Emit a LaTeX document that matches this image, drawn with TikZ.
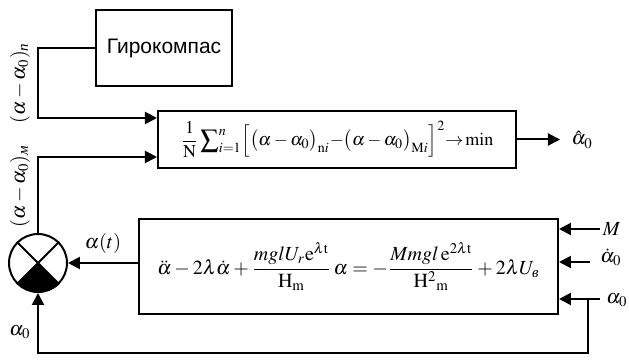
\documentclass[tikz,border=0pt]{standalone}
\usepackage{amsmath}
\usepackage{mathptmx}
\usepackage{fontspec}
\setmainfont{Liberation Serif}
\newfontfamily\gyrofont{Liberation Sans}
\usetikzlibrary{arrows.meta}

\begin{document}
\begin{tikzpicture}[x=0.5pt, y=-0.5pt, line width=1pt,
    >={Triangle[length=6pt,width=6pt]},
    block/.style={draw, inner sep=0pt},
    sig/.style={font=\fontsize{10}{12}\selectfont}]
    \useasboundingbox (0,0) rectangle (629,363);
    % blocks
    \node[block, minimum width=68pt, minimum height=38pt, font=\gyrofont\fontsize{10.5}{12}\selectfont] (gyro) at (164,48) {Гирокомпас};
    \node[block, font=\fontsize{9}{11}\selectfont, minimum width=179pt, minimum height=28.5pt] (crit) at (337,139.5)
        {$\displaystyle\frac{1}{\mathrm{N}}\sum\nolimits_{i=1}^{n}\Bigl[\bigl(\alpha-\alpha_0\bigr)_{\mathrm{n}i}{-}\bigl(\alpha-\alpha_0\bigr)_{\mathrm{M}i}\Bigr]^2{\rightarrow}\min$};
    \node[block, sig, minimum width=209.5pt, minimum height=47.5pt] (model) at (348.5,266.5)
        {$\ddot{\alpha}-2\lambda\dot{\alpha}+\dfrac{mglU_r\mathrm{e}^{\lambda\mathrm{t}}}{\mathrm{H}_{\mathrm{m}}}\,\alpha=-\dfrac{Mmgl\,\mathrm{e}^{2\lambda\mathrm{t}}}{\mathrm{H}^2{}_{\mathrm{m}}}+2\lambda U_{\text{\itshape в}}$};
    % summing point
    \node[draw, circle, minimum size=29pt, inner sep=0pt] (sum) at (38,263) {};
    \draw (sum.north west) -- (sum.south east) (sum.north east) -- (sum.south west);
    \fill (sum.center) -- (sum.south east) arc[start angle=-45, end angle=-135, radius=14.5pt] -- cycle;

    \coordinate (inN) at ([yshift=10.75pt]crit.west);
    \coordinate (inM) at ([yshift=-8.75pt]crit.west);
    \coordinate (out) at (560,139.5);
    \coordinate (mIn) at (600,229);
    \coordinate (dIn) at (590,262);
    \coordinate (aIn) at (600,299);
    \coordinate (fb) at (588,353);

    % connections
    \draw[->] (gyro.west) -- (gyro.west -| sum) |- (inN);
    \draw[->] (sum.north) |- (inM);
    \draw[->] (crit.east) -- (out);
    \draw[->] (model.west |- sum) -- (sum.east) node[sig, midway, above=1pt] {$\alpha(t)$};
    \draw[->] (mIn) -- (model.east |- mIn);
    \draw[->] (dIn) -- (model.east |- dIn);
    \draw[->] (aIn) -- (model.east |- aIn);
    \draw[->] (fb |- aIn) -- (fb) -| (sum.south);

    % labels
    \node[sig, right=2pt] at (out) {$\hat{\alpha}_0$};
    \node[sig, right, inner sep=1pt] at (mIn) {$M$};
    \node[sig] at (611,257) {$\dot{\alpha}_0$};
    \node[sig] at (617,300) {$\alpha_0$};
    \node[sig] at (20,332) {$\alpha_0$};
    \node[sig, rotate=90] at (20,83) {$(\alpha-\alpha_0)_{\text{\itshape п}}$};
    \node[sig, rotate=90] at (20,186) {$(\alpha-\alpha_0)_{\text{\itshape м}}$};
\end{tikzpicture}
\end{document}
